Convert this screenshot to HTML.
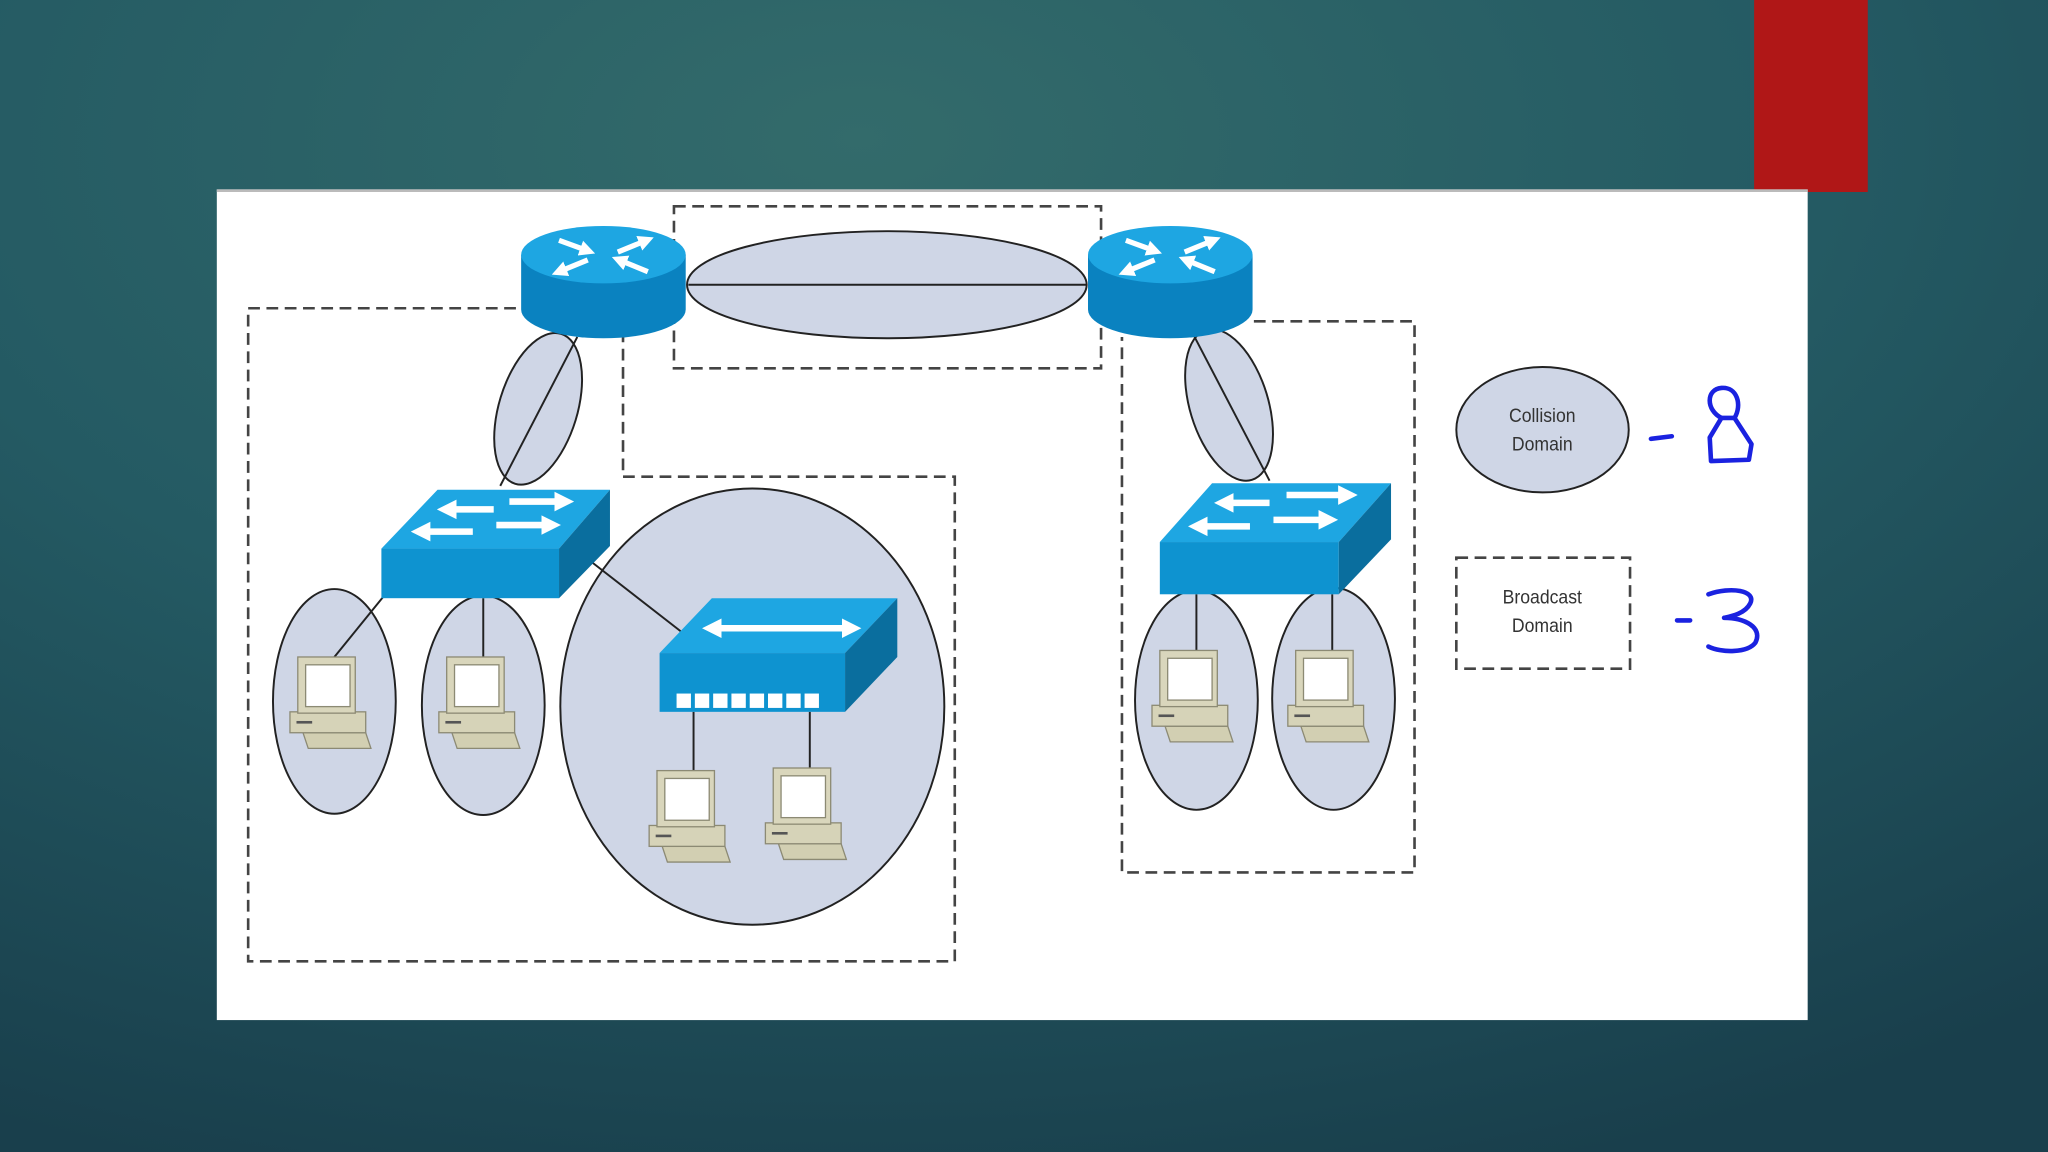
<!DOCTYPE html>
<html><head><meta charset="utf-8"><style>
html,body{margin:0;padding:0;width:2048px;height:1152px;overflow:hidden;background:#1d4a55}
svg{display:block}
</style></head><body>
<svg width="2048" height="1152" viewBox="0 0 1568 882" preserveAspectRatio="none" xmlns="http://www.w3.org/2000/svg">
<defs>
<radialGradient id="bg" cx="0.42" cy="0.12" r="0.95">
<stop offset="0" stop-color="#336b6b"/><stop offset="0.5" stop-color="#245a63"/><stop offset="1" stop-color="#193f4c"/>
</radialGradient>
<marker id="ah" viewBox="0 0 10 10" refX="5" refY="5" markerWidth="3" markerHeight="3.2" orient="auto"><path d="M0,0 L10,5 L0,10 Z" fill="#fff"/></marker>
<g id="pc">
<polygon points="10,58 58,58 62,70 14,70" fill="#d2cfb2" stroke="#8c8a74" stroke-width="1"/>
<rect x="0" y="42" width="58" height="16" fill="#d6d3b8" stroke="#8c8a74" stroke-width="1"/>
<rect x="5" y="49" width="12" height="2" fill="#555"/>
<rect x="6" y="0" width="44" height="43" fill="#d9d6bc" stroke="#8c8a74" stroke-width="1"/>
<rect x="12" y="6" width="34" height="32" fill="#fff" stroke="#8c8a74" stroke-width="1"/>
</g>
</defs>
<rect width="1568" height="882" fill="url(#bg)"/>
<rect x="1343" y="0" width="87" height="147" fill="#b01717"/>
<rect x="166" y="145" width="1218" height="636" fill="#fff"/>
<line x1="166" y1="146" x2="1384" y2="146" stroke="#bbb" stroke-width="2"/>

<g fill="none" stroke="#444" stroke-width="2" stroke-dasharray="9,5">
<rect x="516" y="158" width="327" height="124"/>
<path d="M395,236 H190 V736 H731 V365 H477 V258"/>
<path d="M960,246 H1083 V668 H859 V258"/>
<rect x="1115" y="427" width="133" height="85"/>
</g>

<g fill="#cfd6e6" stroke="#222" stroke-width="1.5">
<ellipse cx="679" cy="218" rx="153" ry="41"/>
<ellipse cx="412" cy="313" rx="30" ry="60" transform="rotate(17 412 313)"/>
<ellipse cx="941" cy="310" rx="30" ry="60" transform="rotate(-17 941 310)"/>
<ellipse cx="256" cy="537" rx="47" ry="86"/>
<ellipse cx="370" cy="540" rx="47" ry="84"/>
<ellipse cx="576" cy="541" rx="147" ry="167"/>
<ellipse cx="916" cy="536" rx="47" ry="84"/>
<ellipse cx="1021" cy="535" rx="47" ry="85"/>
<ellipse cx="1181" cy="329" rx="66" ry="48"/>
</g>
<g stroke="#222" stroke-width="1.5">
<line x1="527" y1="218" x2="832" y2="218"/>
<line x1="442" y1="258" x2="383" y2="372"/>
<line x1="912" y1="253" x2="972" y2="368"/>
<line x1="450" y1="428" x2="522" y2="484"/>
<line x1="295" y1="455" x2="256" y2="503"/>
<line x1="370" y1="458" x2="370" y2="503"/>
<line x1="531" y1="545" x2="531" y2="590"/>
<line x1="620" y1="545" x2="620" y2="588"/>
<line x1="916" y1="455" x2="916" y2="498"/>
<line x1="1020" y1="455" x2="1020" y2="498"/>
</g>

<!-- routers -->
<g>
<path d="M399,195 V237 A63,22 0 0 0 525,237 V195 Z" fill="#0a82c0"/>
<ellipse cx="462" cy="195" rx="63" ry="22" fill="#1ea6e2"/>
<g stroke="#fff" stroke-width="4" fill="none" marker-end="url(#ah)"><line x1="428" y1="184" x2="450" y2="192"/><line x1="473" y1="193" x2="495" y2="184"/><line x1="450" y1="199" x2="428" y2="208"/><line x1="496" y1="208" x2="474" y2="199"/></g>
<path d="M833,195 V237 A63,22 0 0 0 959,237 V195 Z" fill="#0a82c0"/>
<ellipse cx="896" cy="195" rx="63" ry="22" fill="#1ea6e2"/>
<g stroke="#fff" stroke-width="4" fill="none" marker-end="url(#ah)"><line x1="862" y1="184" x2="884" y2="192"/><line x1="907" y1="193" x2="929" y2="184"/><line x1="884" y1="199" x2="862" y2="208"/><line x1="930" y1="208" x2="908" y2="199"/></g>
</g>

<!-- switches -->
<g>
<polygon points="292,420 335,375 467,375 428,420" fill="#1ea6e2"/>
<rect x="292" y="420" width="136" height="38" fill="#0e93d0"/>
<polygon points="428,420 467,375 467,418 428,458" fill="#0a6e9e"/>
<g stroke="#fff" stroke-width="5" marker-end="url(#ah)"><line x1="378" y1="390" x2="342" y2="390"/><line x1="390" y1="384" x2="432" y2="384"/><line x1="362" y1="407" x2="322" y2="407"/><line x1="380" y1="402" x2="422" y2="402"/></g>
<polygon points="888,415 928,370 1065,370 1025,415" fill="#1ea6e2"/>
<rect x="888" y="415" width="137" height="40" fill="#0e93d0"/>
<polygon points="1025,415 1065,370 1065,413 1025,455" fill="#0a6e9e"/>
<g stroke="#fff" stroke-width="5" marker-end="url(#ah)"><line x1="972" y1="385" x2="937" y2="385"/><line x1="985" y1="379" x2="1032" y2="379"/><line x1="957" y1="403" x2="917" y2="403"/><line x1="975" y1="398" x2="1017" y2="398"/></g>
<!-- hub -->
<polygon points="505,500 545,458 687,458 647,500" fill="#1ea6e2"/>
<rect x="505" y="500" width="142" height="45" fill="#0e93d0"/>
<polygon points="647,500 687,458 687,503 647,545" fill="#0a6e9e"/>
<line x1="560" y1="481" x2="545" y2="481" stroke="#fff" stroke-width="5" marker-end="url(#ah)"/>
<line x1="545" y1="481" x2="652" y2="481" stroke="#fff" stroke-width="5" marker-end="url(#ah)"/>
<g fill="#fff"><rect x="518" y="531" width="11" height="11"/><rect x="532" y="531" width="11" height="11"/><rect x="546" y="531" width="11" height="11"/><rect x="560" y="531" width="11" height="11"/><rect x="574" y="531" width="11" height="11"/><rect x="588" y="531" width="11" height="11"/><rect x="602" y="531" width="11" height="11"/><rect x="616" y="531" width="11" height="11"/></g>
</g>

<use href="#pc" x="222" y="503"/>
<use href="#pc" x="336" y="503"/>
<use href="#pc" x="497" y="590"/>
<use href="#pc" x="586" y="588"/>
<use href="#pc" x="882" y="498"/>
<use href="#pc" x="986" y="498"/>

<g font-family="Liberation Sans, sans-serif" font-size="15" fill="#333" text-anchor="middle" transform="scale(0.9 1)">
<text x="1312" y="323">Collision</text><text x="1312" y="345">Domain</text>
<text x="1312" y="462">Broadcast</text><text x="1312" y="484">Domain</text>
</g>
<g stroke="#1a22e0" stroke-width="3.5" fill="none" stroke-linecap="round" stroke-linejoin="round">
<line x1="1264" y1="336" x2="1280" y2="334"/>
<path d="M1318,320 C1306,314 1306,298 1318,297 C1330,296 1334,310 1328,320 Z"/>
<path d="M1318,320 L1309,335 L1310,353 L1339,352 L1341,340 L1328,320"/>
<line x1="1284" y1="475" x2="1294" y2="475"/>
<path d="M1308,455 C1325,449 1345,452 1340,462 C1336,470 1325,472 1320,473 C1335,473 1350,480 1344,492 C1338,500 1318,500 1308,495"/>
</g>
</svg>
</body></html>
